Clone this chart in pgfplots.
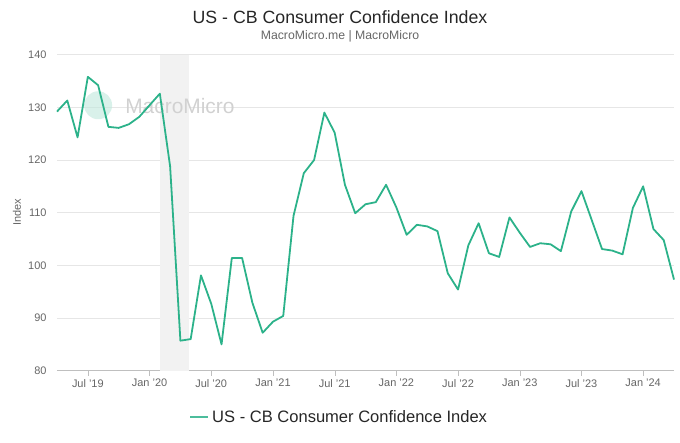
\documentclass[border=0pt]{standalone}
\usepackage{fontspec}
\setmainfont{Liberation Sans}
\usepackage{pgfplots}
\pgfplotsset{compat=1.18}
\definecolor{cbline}{RGB}{44,178,138}
\definecolor{txtgray}{RGB}{102,102,102}
\definecolor{gridgray}{RGB}{230,230,230}
\definecolor{recshade}{RGB}{242,242,242}
\begin{document}
\begin{tikzpicture}[x=1bp,y=1bp]
\useasboundingbox (-57,-72.3) rectangle (623,370.7);
\begin{axis}[
  at={(0,0)},anchor=south west,
  scale only axis, width=617bp, height=316bp,
  xmin=0, xmax=60, ymin=80, ymax=140,
  ytick={80,90,...,140},
  xtick={3,9,...,57},
  xticklabels={Jul '19,Jan '20,Jul '20,Jan '21,Jul '21,Jan '22,Jul '22,Jan '23,Jul '23,Jan '24},
  axis x line*=bottom, axis y line*=left,
  x axis line style={draw=black!25,-},
  y axis line style={draw=none},
  tick align=outside,
  major tick length=5bp,
  xtick style={draw=black!25},
  ytick style={draw=none},
  ymajorgrids, grid style={gridgray,line width=0.8pt},
  tick label style={text=txtgray,font=\fontsize{11}{13}\selectfont},
  yticklabel style={xshift=-2bp},
  /pgf/number format/assume math mode=true,
  clip=false,
]
\fill[recshade] (axis cs:10,80) rectangle (axis cs:12.84,140);
\fill[cbline!30,opacity=0.6] (axis cs:4,130.4) circle (14bp);
\node[anchor=west,text=black!18,font=\fontsize{21}{24}\selectfont,inner sep=0] at (axis cs:6.62,130.3) {MacroMicro};
\addplot[cbline, line width=1.8pt, line join=round] coordinates {
(0,129.2)(1,131.3)(2,124.3)(3,135.8)(4,134.2)(5,126.3)(6,126.1)(7,126.8)(8,128.2)(9,130.4)
(10,132.6)(11,118.8)(12,85.7)(13,86.0)(14,98.1)(15,92.7)(16,85.0)(17,101.4)(18,101.4)(19,92.9)
(20,87.2)(21,89.3)(22,90.4)(23,109.4)(24,117.5)(25,120.0)(26,129.0)(27,125.2)(28,115.3)(29,109.9)
(30,111.6)(31,112.0)(32,115.3)(33,111.0)(34,105.8)(35,107.7)(36,107.4)(37,106.5)(38,98.5)(39,95.4)
(40,103.8)(41,108.0)(42,102.3)(43,101.6)(44,109.1)(45,106.2)(46,103.5)(47,104.2)(48,104.0)(49,102.7)
(50,110.2)(51,114.1)(52,108.6)(53,103.1)(54,102.8)(55,102.1)(56,110.9)(57,115.0)(58,106.9)(59,104.8)
(60,97.3)
};
\end{axis}
\node[rotate=90,text=txtgray,font=\fontsize{11}{13}\selectfont] at (-40,158.7) {Index};
\node[text=black!85,font=\fontsize{17.8}{20}\selectfont] at (283,353.7) {US - CB Consumer Confidence Index};
\node[text=txtgray,font=\fontsize{12.3}{14}\selectfont] at (283,334.7) {MacroMicro.me | MacroMicro};
\draw[cbline!85,line width=2pt] (133,-46.3) -- (151,-46.3);
\node[anchor=west,text=black!85,font=\fontsize{16.6}{19}\selectfont,inner sep=0] at (155,-46.3) {US - CB Consumer Confidence Index};
\end{tikzpicture}
\end{document}
